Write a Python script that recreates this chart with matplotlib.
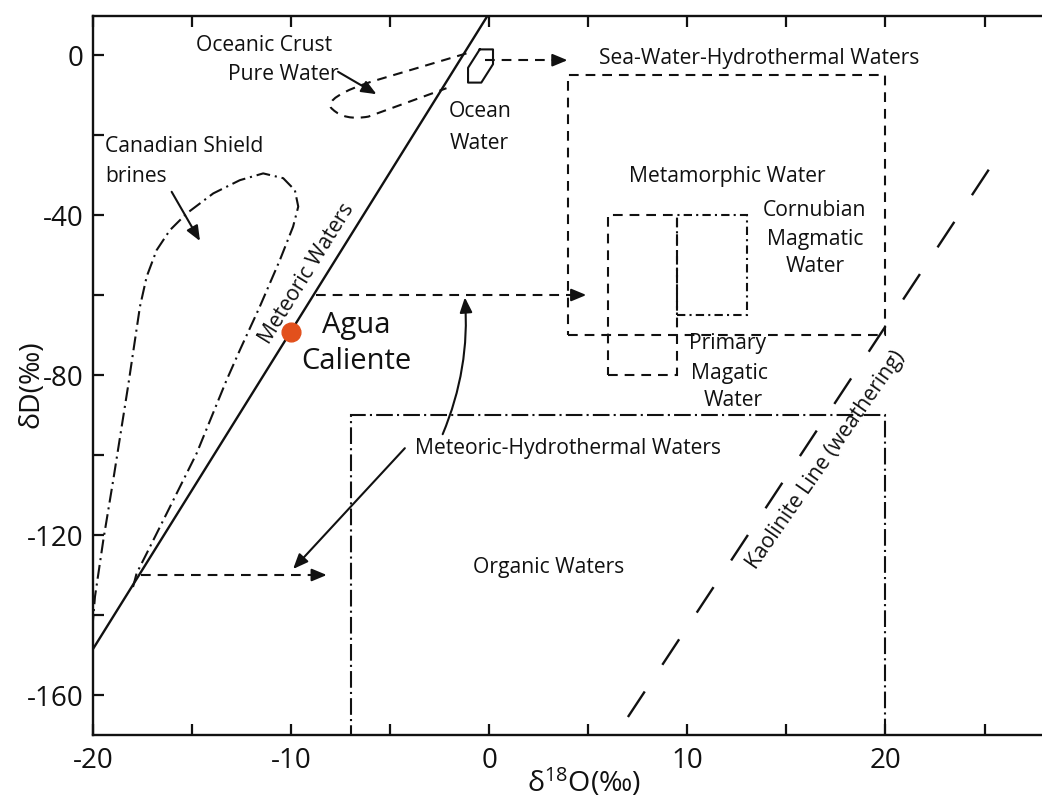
import numpy as np
import matplotlib
matplotlib.use("Agg")
import matplotlib.pyplot as plt
from matplotlib.path import Path
from matplotlib.patches import PathPatch, Rectangle

plt.rcParams['font.family'] = ['Open Sans', 'DejaVu Sans']
plt.rcParams['mathtext.default'] = 'regular'
plt.rcParams['lines.scale_dashes'] = False

INK = '#111111'

# ---- data (delta-18O in permil, delta-D in permil) ----
meteoric_d18o = [-20.0, 0.0]
meteoric_dD = [-148.5, 10.5]

kaolinite_d18o = [7.0, 25.7]
kaolinite_dD = [-165.5, -25.0]

agua_caliente = (-10.0, -69.2)

ocean_d18o = [-0.48, 0.19, 0.19, -0.40, -1.07, -1.07, -0.48]
ocean_dD = [1.4, 1.4, -2.3, -6.9, -6.9, -3.2, 1.4]

brines_d18o = [-20.3, -20.0, -19.9, -19.48, -18.98, -18.22, -17.63, -17.29, -16.79,
               -16.12, -15.27, -13.93, -12.59, -11.41, -10.40, -9.81, -9.64, -9.90,
               -10.57, -11.58, -12.59, -13.26, -14.77, -16.28, -17.29, -17.80, -17.98]
brines_dD = [-150.0, -141.3, -135.4, -121.3, -106.3, -82.5, -62.9, -55.4, -48.8,
             -43.8, -39.6, -34.6, -31.3, -29.6, -30.8, -33.8, -37.9, -42.9,
             -51.3, -62.9, -73.8, -81.3, -99.6, -114.6, -124.6, -129.6, -133.0]

# boxes: (x_min, x_max, y_min, y_max)
seawater_box = (4.0, 20.0, -70.0, -5.0)
primary_box = (6.0, 9.5, -80.0, -40.0)
cornubian_box = (9.5, 13.0, -65.0, -40.0)
organic_box = (-7.0, 20.0, -172.0, -90.0)

x_major = [-20, -10, 0, 10, 20]
y_major = [-160, -120, -80, -40, 0]

# ---- figure ----
fig = plt.figure(figsize=(10.42, 8.01), dpi=100)
ax = fig.add_axes([93/1042, 66/801, (1042-93)/1042, (735-16)/801])
ax.set_xlim(-20, 27.9)
ax.set_ylim(-170, 9.75)

for s in ['left', 'bottom', 'top']:
    ax.spines[s].set_linewidth(1.7)
    ax.spines[s].set_color(INK)
ax.spines['right'].set_visible(False)

ax.set_xticks(x_major)
ax.set_xticks(np.arange(-15, 28, 10), minor=True)
ax.set_yticks(y_major)
ax.set_yticks(np.arange(-140, 1, 40), minor=True)
ax.set_xticklabels([str(v) for v in x_major])
ax.set_yticklabels([str(v) for v in y_major])
ax.tick_params(which='both', direction='in', length=8, width=1.6, color=INK,
               top=True, right=False, labelsize=20, labelcolor=INK)
ax.tick_params(axis='x', pad=9)
ax.tick_params(axis='y', pad=7)

dashed = (0, (7, 5))
lw = 1.5

# meteoric water line
ax.plot(meteoric_d18o, meteoric_dD, color=INK, lw=1.7, solid_capstyle='butt')

# kaolinite line
ax.plot(kaolinite_d18o, kaolinite_dD, color=INK, lw=1.7, linestyle=(0, (22, 23)))

# ocean water polygon
ax.plot(ocean_d18o, ocean_dD, color=INK, lw=1.5)

# Canadian Shield brines field
ax.plot(brines_d18o, brines_dD, color=INK, lw=1.5, linestyle=(0, (10, 3.5, 1.5, 3.5)))

# oceanic crust field (open loop)
crust_verts = [(-1.15, 0.4), (-5.7, -6.3),
               (-7.4, -8.8), (-8.4, -11.8), (-7.9, -13.6),
               (-7.5, -15.5), (-6.9, -16.1), (-6.1, -15.4),
               (-2.16, -8.3)]
crust_codes = [Path.MOVETO, Path.LINETO,
               Path.CURVE4, Path.CURVE4, Path.CURVE4,
               Path.CURVE4, Path.CURVE4, Path.CURVE4,
               Path.LINETO]
ax.add_patch(PathPatch(Path(crust_verts, crust_codes), fill=False, edgecolor=INK,
                       lw=lw, linestyle=dashed))


def box(b, ls):
    x0, x1, y0, y1 = b
    ax.add_patch(Rectangle((x0, y0), x1 - x0, y1 - y0, fill=False,
                           edgecolor=INK, lw=lw, linestyle=ls))


box(seawater_box, dashed)
box(primary_box, dashed)
box(cornubian_box, (0, (6, 3, 1.5, 3)))
box(organic_box, (0, (12, 3, 1.5, 3)))

# Agua Caliente sample
ax.plot(*agua_caliente, 'o', color='#e2501c', markersize=13.5, zorder=5)

# arrows
head = dict(arrowstyle='-|>,head_length=0.6,head_width=0.25', color=INK, lw=1.5,
            shrinkA=0, shrinkB=0, mutation_scale=15)


def dashed_arrow(x0, x1, y):
    ax.plot([x0, x1 - 0.4], [y, y], color=INK, lw=lw, linestyle=dashed)
    ax.annotate('', xy=(x1, y), xytext=(x1 - 0.5, y), arrowprops=head)


dashed_arrow(-0.2, 3.95, -1.3)
dashed_arrow(-8.75, 4.9, -60.0)
dashed_arrow(-17.6, -8.2, -130.0)


def solid_arrow(p0, p1, rad=0.0):
    props = dict(head)
    props['connectionstyle'] = 'arc3,rad=%g' % rad
    ax.annotate('', xy=p1, xytext=p0, arrowprops=props)


solid_arrow((-7.63, -4.2), (-5.69, -9.8))          # pure water
solid_arrow((-16.03, -34.2), (-14.6, -46.5))       # brines
solid_arrow((-4.26, -98.3), (-9.9, -128.5))        # meteoric-hydrothermal (down)
solid_arrow((-2.35, -94.8), (-1.23, -60.6), 0.12)  # meteoric-hydrothermal (up)

# labels
fs = 15.2
tk = dict(color=INK, fontsize=fs)
ax.text(-11.36, 2.5, 'Oceanic Crust', ha='center', va='center', **tk)
ax.text(-10.4, -4.75, 'Pure Water', ha='center', va='center', **tk)
ax.text(-0.48, -14.2, 'Ocean', ha='center', va='center', **tk)
ax.text(-0.48, -22.0, 'Water', ha='center', va='center', **tk)
ax.text(-19.4, -22.9, 'Canadian Shield', ha='left', va='center', **tk)
ax.text(-19.4, -30.4, 'brines', ha='left', va='center', **tk)
ax.text(-6.73, -67.5, 'Agua', ha='center', va='center', color=INK, fontsize=21)
ax.text(-6.73, -76.7, 'Caliente', ha='center', va='center', color=INK, fontsize=21)
ax.text(13.62, -0.8, 'Sea-Water-Hydrothermal Waters', ha='center', va='center', **tk)
ax.text(12.0, -30.4, 'Metamorphic Water', ha='center', va='center', **tk)
for txt, yy in zip(['Cornubian', 'Magmatic', 'Water'], [-38.75, -46.1, -52.9]):
    ax.text(16.43, yy, txt, ha='center', va='center', **tk)
for txt, xx, yy in zip(['Primary', 'Magatic', 'Water'], [12.05, 12.1, 12.3],
                       [-72.0, -79.5, -86.3]):
    ax.text(xx, yy, txt, ha='center', va='center', **tk)
ax.text(3.96, -98.3, 'Meteoric-Hydrothermal Waters', ha='center', va='center', **tk)
ax.text(3.0, -128.0, 'Organic Waters', ha='center', va='center', **tk)


def line_angle(xs, ys):
    p = ax.transData.transform(np.column_stack([xs, ys]))
    return np.degrees(np.arctan2(p[1, 1] - p[0, 1], p[1, 0] - p[0, 0]))


ax.text(-9.18, -54.75, 'Meteoric Waters', ha='center', va='center',
        rotation=line_angle(meteoric_d18o, meteoric_dD), rotation_mode='anchor', **tk)
ax.text(17.0, -101.25, 'Kaolinite Line (weathering)', ha='center', va='center',
        rotation=line_angle(kaolinite_d18o, kaolinite_dD) - 1.5, rotation_mode='anchor',
        **tk)

# axis titles
fig.text(31/1042, 1 - 384/801, 'δD(‰)', rotation=90, ha='center', va='center',
         fontsize=20.5, color=INK)
fig.text(584/1042, 1 - 792/801, 'δ$^{18}$O(‰)', ha='center', va='baseline',
         fontsize=20.5, color=INK)

fig.savefig('out.png', dpi=100)
